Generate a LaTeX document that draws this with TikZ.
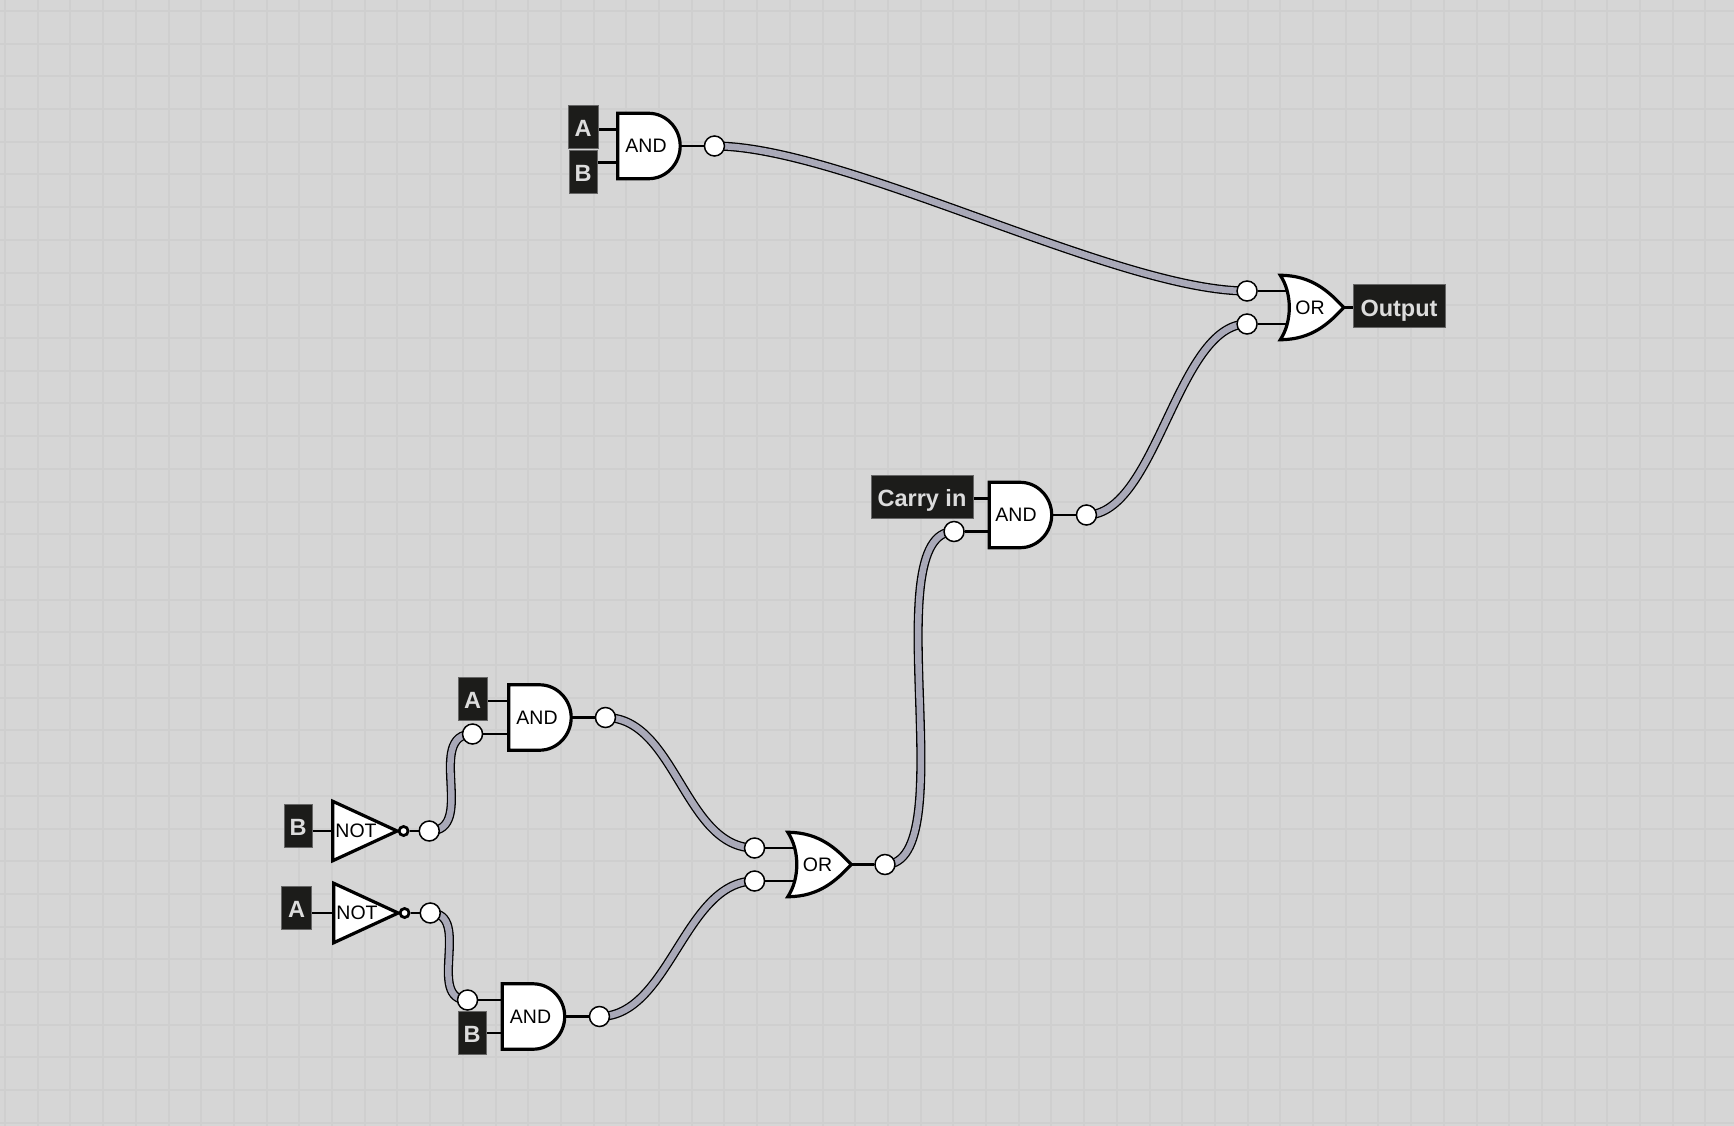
\documentclass[tikz,border=0pt]{standalone}
\usepackage{fontspec}
\setmainfont{Liberation Sans}
\usepackage{tikz}
\usetikzlibrary{%
   backgrounds,%
   calc,%
   positioning}
\definecolor{canvas}{HTML}{D6D6D6}
\definecolor{gridcol}{HTML}{CFCFCF}
\definecolor{wirecol}{HTML}{A9A9B8}
\definecolor{boxcol}{HTML}{1C1C1A}
\definecolor{boxtxt}{HTML}{DCDCDC}
\newcommand{\gateports}[1]{%
  \coordinate (#1i) at ($(#1.west)+(0,-16.5)$);
  \coordinate (#1j) at ($(#1.west)+(0,16.5)$);}
\newcommand{\andbody}[1]{\filldraw[body] (#1.north west) -- ++(31,0) .. controls +(17,0) and +(0,-18) .. (#1.east) .. controls +(0,18) and +(17,0) .. ($(#1.south west)+(31,0)$) -- (#1.south west) -- cycle;}
\newcommand{\orbody}[1]{\filldraw[body] (#1.north west) .. controls +(32,0) and +(-14,-15) .. (#1.east) .. controls +(-14,15) and +(32,0) .. (#1.south west) .. controls +(12,-18) and +(12,18) .. cycle;}
\newcommand{\notbody}[1]{\filldraw[body] (#1.north west) -- (#1.east) -- (#1.south west) -- cycle;}
\begin{document}
\begin{tikzpicture}
[x=1pt, y=-1pt,
 font=\fontsize{19.5}{20}\selectfont,
 body/.style={draw=black, fill=white, line width=3.2pt},
 andg/.style={inner sep=0pt, minimum height=65pt, minimum width=62pt, execute at begin node={\hspace*{-6pt}}},
 org/.style={inner sep=0pt, minimum height=64pt, minimum width=63pt, execute at begin node={\hspace*{-4pt}}},
 notg/.style={inner sep=0pt, minimum height=59pt, minimum width=64pt, execute at begin node={\hspace*{-18pt}}},
 bub/.style={draw, circle, fill=white, line width=2.8pt, inner sep=0pt, minimum size=9pt},
 lbl/.style={draw=black!60, line width=0.8pt, fill=boxcol, text=boxtxt, inner sep=0pt, minimum height=43pt, text height=19pt, text depth=0pt, font=\fontsize{23.5}{24}\selectfont\bfseries},
 pin/.style={draw, circle, fill=white, line width=1.5pt, inner sep=0pt, minimum size=20pt},
 stub/.style={line width=2.8pt},
 wire/.style={draw=black, line width=1.3pt, double=wirecol, double distance=6.5pt}]
\useasboundingbox (0,0) rectangle (1734,1126);
\node (andtop) [andg] at (649,146) {AND};
\node (orout) [org] at (1312,307.5) {OR};
\node (andcarry) [andg] at (1020.5,515) {\hspace*{-3pt}AND};
\node (andup) [andg] at (540,717.5) {AND};
\node (anddown) [andg] at (533.5,1016.5) {AND};
\node (ormid) [org] at (819.5,864.5) {OR};
\node (notb) [notg] at (365,831) {NOT};
\node (nota) [notg] at (366,913) {NOT};
\gateports{andtop}
\gateports{orout}
\gateports{andcarry}
\gateports{andup}
\gateports{anddown}
\gateports{ormid}
\node (bubb) [bub, right=0.5pt of notb.east] {};
\node (buba) [bub, right=0.5pt of nota.east] {};
\node (lbltopa) [lbl, minimum width=30pt] at (583,127) {A};
\node (lbltopb) [lbl, minimum width=28pt] at (583,172) {B};
\node (lblout) [lbl, minimum width=92pt, text height=21pt] at (1399,305.5) {Output};
\node (lblcarry) [lbl, minimum width=102pt] at (922,496.5) {Carry in};
\node (lblupa) [lbl, minimum width=29pt] at (472.5,698.5) {A};
\node (lblnotb) [lbl, minimum width=28pt] at (298,825.5) {B};
\node (lblnota) [lbl, minimum width=30pt] at (296.5,908) {A};
\node (lbldownb) [lbl, minimum width=28pt] at (472,1033) {B};
\node (pintop) [pin, right=23.5pt of andtop.east] {};
\node (pinor1) [pin, left=22.5pt of orouti] {};
\node (pinor2) [pin, left=22.5pt of oroutj] {};
\node (pincarry) [pin, right=24pt of andcarry.east] {};
\node (pincin) [pin, left=24.5pt of andcarryj] {};
\node (pinup) [pin, right=23.5pt of andup.east] {};
\node (pinupin) [pin, left=25.5pt of andupj] {};
\node (pindown) [pin, right=24pt of anddown.east] {};
\node (pindownin) [pin, left=24pt of anddowni] {};
\node (pinmid1) [pin, left=22.5pt of ormidi] {};
\node (pinmid2) [pin, left=22.5pt of ormidj] {};
\node (pinmid) [pin, right=23pt of ormid.east] {};
\node (pinnotb) [pin, right=9pt of bubb] {};
\node (pinnota) [pin, right=9pt of buba] {};
\begin{scope}[on background layer]
\fill[canvas] (0,0) rectangle (1734,1126);
\foreach \i in {0,...,53}
  \draw[gridcol, line width=2pt] ({5+32.7*\i},0) -- ({5+32.7*\i},1126);
\foreach \i in {0,...,34}
  \draw[gridcol, line width=2pt] (0,{11+32.7*\i}) -- (1734,{11+32.7*\i});
\draw[wire] (pintop.center) .. controls +(130,0) and +(-130,0) .. (pinor1.center);
\draw[wire] (pincarry.center) .. controls +(70,0) and +(-70,0) .. (pinor2.center);
\draw[wire] (pinup.center) .. controls +(70,0) and +(-70,0) .. (pinmid1.center);
\draw[wire] (pindown.center) .. controls +(70,0) and +(-70,0) .. (pinmid2.center);
\draw[wire] (pinmid.center) .. controls +(80,0) and +(-80,0) .. (pincin.center);
\draw[wire] (pinnotb.center) .. controls +(48,0) and +(-48,0) .. (pinupin.center);
\draw[wire] (pinnota.center) .. controls +(42,0) and +(-42,0) .. (pindownin.center);
\draw[stub] (andtopi) -- (andtopi -| lbltopa.east);
\draw[stub] (andtopj) -- (andtopj -| lbltopb.east);
\draw[stub] (andtop.east) -- (pintop);
\draw[stub] (pinor1) -- (pinor1 -| orout.center);
\draw[stub] (pinor2) -- (pinor2 -| orout.center);
\draw[stub] (orout.east) -- (orout.east -| lblout.west);
\draw[stub] (andcarryi) -- (andcarryi -| lblcarry.east);
\draw[stub] (andcarryj) -- (pincin);
\draw[stub] (andcarry.east) -- (pincarry);
\draw[stub] (andupi) -- (andupi -| lblupa.east);
\draw[stub] (andupj) -- (pinupin);
\draw[stub] (andup.east) -- (pinup);
\draw[stub] (anddowni) -- (pindownin);
\draw[stub] (anddownj) -- (anddownj -| lbldownb.east);
\draw[stub] (anddown.east) -- (pindown);
\draw[stub] (pinmid1) -- (pinmid1 -| ormid.center);
\draw[stub] (pinmid2) -- (pinmid2 -| ormid.center);
\draw[stub] (ormid.east) -- (pinmid);
\draw[stub] (notb.west) -- (notb.west -| lblnotb.east);
\draw[stub] (bubb) -- (pinnotb);
\draw[stub] (nota.west) -- (nota.west -| lblnota.east);
\draw[stub] (buba) -- (pinnota);
\andbody{andtop}
\andbody{andcarry}
\andbody{andup}
\andbody{anddown}
\orbody{orout}
\orbody{ormid}
\notbody{notb}
\notbody{nota}
\end{scope}
\end{tikzpicture}
\end{document}
